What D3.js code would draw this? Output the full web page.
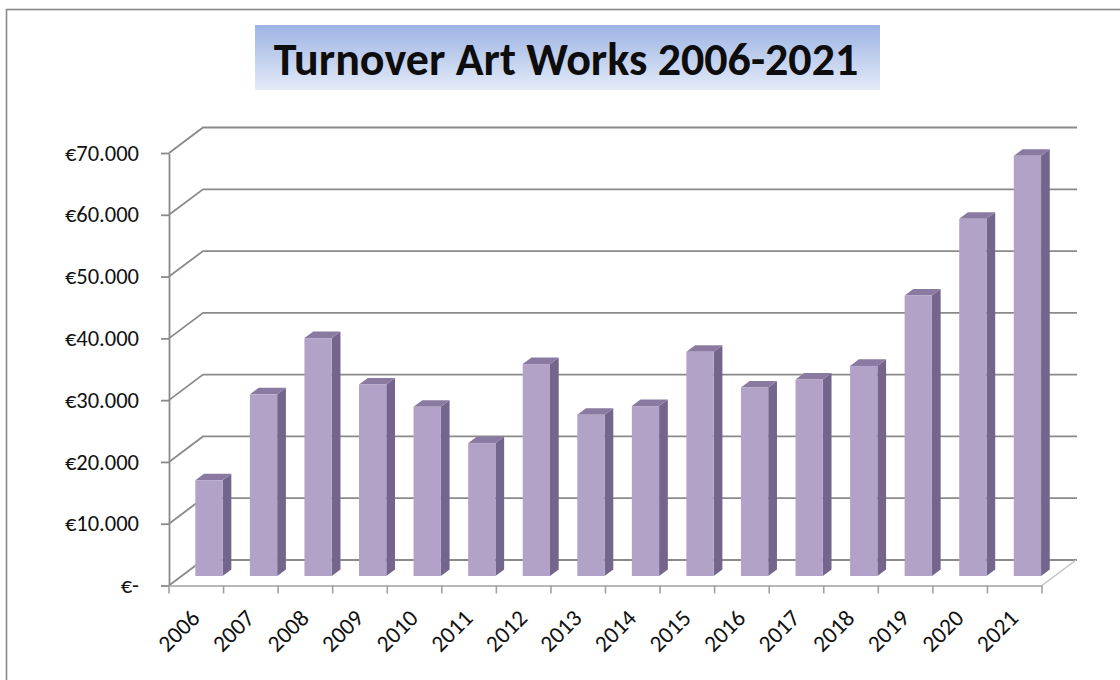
<!DOCTYPE html>
<html>
<head>
<meta charset="utf-8">
<script src="https://cdn.jsdelivr.net/npm/d3@7"></script>
<style>
  html, body { margin: 0; padding: 0; background: #ffffff; }
  svg { display: block; }
</style>
</head>
<body>
<svg id="chart" width="1120" height="680"></svg>
<script>
// ---- data ----
const years = ["2006", "2007", "2008", "2009", "2010", "2011", "2012", "2013",
               "2014", "2015", "2016", "2017", "2018", "2019", "2020", "2021"];
const turnover = [15500, 29400, 38500, 31000, 27400, 21500, 34300, 26100,
                  27500, 36300, 30500, 31800, 34000, 45400, 57800, 68000];
const yTicks = [0, 10000, 20000, 30000, 40000, 50000, 60000, 70000];
const chartTitle = "Turnover Art Works 2006-2021";

// ---- layout ----
const W = 1120, H = 680;
const plotLeft = 169, plotRight = 1042, plotBottom = 585.5, plotTop = 153;   // front plane
const depthX = 34, depthY = -25.5;                                           // oblique depth of the 3-D box
const barFront = 0.373, barBack = 0.63;                                      // bar depth within the box
const labelFont = "Carlito, Calibri, Lato, sans-serif";
const yLabelSize = 22.5;
const xLabelSize = 23.5;

const svg = d3.select("#chart");

const x = d3.scaleBand().domain(years).range([plotLeft, plotRight]).paddingInner(0).paddingOuter(0);
const y = d3.scaleLinear().domain([0, 70000]).range([plotBottom, plotTop]);
const proj = (px, py, d) => [px + d * depthX, py + d * depthY];
const line = d3.line();

// euro format with "." thousands separator, zero shown as "€-"
const euro = d3.formatLocale({ decimal: ",", thousands: ".", grouping: [3], currency: ["€", ""] });
const fmtEuro = euro.format("$,");
const tickLabel = v => v === 0 ? "€-" : fmtEuro(v);

// ---- background and frame ----
svg.append("rect").attr("width", W).attr("height", H).attr("fill", "#ffffff");
svg.append("rect")
  .attr("x", 6.5).attr("y", 9.5).attr("width", W + 20).attr("height", H + 20)
  .attr("fill", "none").attr("stroke", "#8a8a8a").attr("stroke-width", 1.6);

// ---- title ----
const defs = svg.append("defs");
const grad = defs.append("linearGradient").attr("id", "titleFill")
  .attr("x1", 0).attr("y1", 0).attr("x2", 0).attr("y2", 1);
grad.append("stop").attr("offset", "0%").attr("stop-color", "#9cb3e3");
grad.append("stop").attr("offset", "100%").attr("stop-color", "#e4ebf8");

svg.append("rect")
  .attr("x", 255).attr("y", 25).attr("width", 625).attr("height", 65)
  .attr("fill", "url(#titleFill)");
svg.append("text")
  .attr("x", 566).attr("y", 75)
  .attr("text-anchor", "middle")
  .attr("font-family", labelFont)
  .attr("font-weight", "bold")
  .attr("font-size", 46)
  .attr("fill", "#0d0d0d")
  .text(chartTitle);

// ---- back wall gridlines (with their diagonal on the side wall) ----
const grid = svg.append("g").attr("fill", "none").attr("stroke", "#8a8a8a").attr("stroke-width", 1.8);
yTicks.forEach(t => {
  const yy = y(t);
  const back = proj(plotLeft, yy, 1);
  const backRight = [proj(plotRight, yy, 1)[0] + 1, back[1]];
  grid.append("path").attr("d", line([[plotLeft, yy], back, backRight]));
});

// ---- floor edge on the right ----
svg.append("path")
  .attr("d", line([[plotRight, plotBottom], proj(plotRight, plotBottom, 1)]))
  .attr("fill", "none").attr("stroke", "#c4c4c4").attr("stroke-width", 1.5);

// ---- bars ----
const barW = x.bandwidth() * 0.5;
const bars = svg.append("g");
years.forEach((yr, i) => {
  const v = turnover[i];
  const x0 = x(yr) + (x.bandwidth() - barW) / 2;
  const x1 = x0 + barW;
  const yt = y(v), yb = y(0);
  const g = bars.append("g");
  // side face
  g.append("path")
    .attr("d", line([proj(x1, yt, barFront), proj(x1, yt, barBack), proj(x1, yb, barBack), proj(x1, yb, barFront)]) + "Z")
    .attr("fill", "#74658d");
  // top face
  g.append("path")
    .attr("d", line([proj(x0, yt, barFront), proj(x1, yt, barFront), proj(x1, yt, barBack), proj(x0, yt, barBack)]) + "Z")
    .attr("fill", "#8a7aa1");
  // front face
  const f0 = proj(x0, yt, barFront);
  const f1 = proj(x1, yb, barFront);
  g.append("rect")
    .attr("x", f0[0]).attr("y", f0[1])
    .attr("width", f1[0] - f0[0]).attr("height", f1[1] - f0[1])
    .attr("fill", "#b3a2c8");
});

// ---- value axis ----
const yAxis = svg.append("g")
  .attr("transform", `translate(${plotLeft},0)`)
  .call(d3.axisLeft(y).tickValues(yTicks).tickFormat(tickLabel)
        .tickSize(8).tickSizeOuter(0).tickPadding(22));
yAxis.select(".domain").attr("stroke", "#8a8a8a").attr("stroke-width", 1.8);
yAxis.selectAll(".tick line").attr("stroke", "#8a8a8a").attr("stroke-width", 1.8);
yAxis.selectAll(".tick text")
  .attr("font-family", labelFont).attr("font-size", yLabelSize).attr("fill", "#111");

// ---- category axis ----
const xAxis = svg.append("g")
  .attr("transform", `translate(0,${plotBottom})`)
  .call(d3.axisBottom(x).tickSize(0).tickSizeOuter(0));
xAxis.select(".domain").attr("stroke", "#a0a0a0").attr("stroke-width", 1.6);
xAxis.selectAll(".tick text")
  .attr("y", 0).attr("dy", 0)
  .attr("text-anchor", "end")
  .attr("transform", "translate(5,34) rotate(-45)")
  .attr("font-family", labelFont).attr("font-size", xLabelSize).attr("fill", "#111");

// tick marks on the band boundaries
const boundaries = years.map(yr => x(yr)).concat([plotRight]);
svg.append("g").selectAll("line").data(boundaries).join("line")
  .attr("x1", d => d).attr("x2", d => d)
  .attr("y1", plotBottom).attr("y2", plotBottom + 8)
  .attr("stroke", "#a0a0a0").attr("stroke-width", 1.6);
</script>
</body>
</html>
